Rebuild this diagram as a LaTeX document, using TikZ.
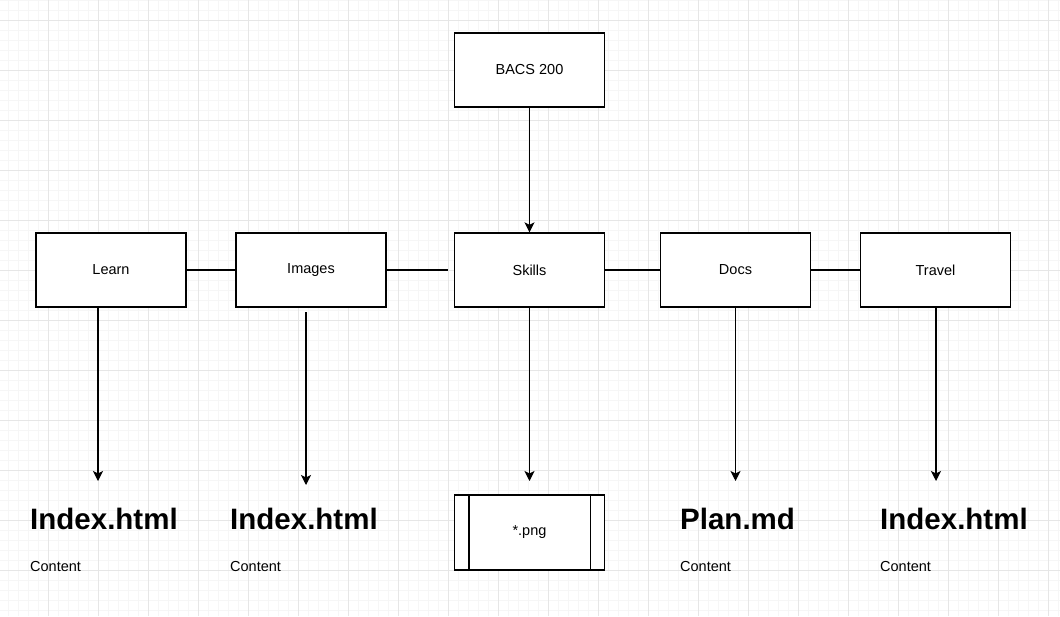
\documentclass[tikz,border=0pt]{standalone}
\usepackage{fontspec}
\setmainfont{Liberation Sans}
\usetikzlibrary{arrows.meta}
\definecolor{minorgrid}{HTML}{F6F6F6}
\definecolor{majorgrid}{HTML}{E6E6E6}
\begin{document}
\begin{tikzpicture}[x=1pt,y=-1pt,
  box/.style={draw=black,line width=1.3pt,fill=white,minimum width=150pt,minimum height=74pt,inner sep=0pt,font=\fontsize{14.5}{17}\selectfont},
  link/.style={line width=1.3pt,draw=black},
  arr/.style={line width=1.3pt,draw=black,-{Stealth[length=10pt,width=10pt,inset=2.5pt]}},
  head/.style={anchor=base west,inner sep=0pt,font=\bfseries\fontsize{29.5}{34}\selectfont},
  sub/.style={anchor=base west,inner sep=0pt,font=\fontsize{14.5}{17}\selectfont}]
\useasboundingbox (0,0) rectangle (1060,616);
\fill[white] (0,0) rectangle (1060,616);
% grid
\foreach \x in {8,18,...,1060} \draw[minorgrid,line width=1pt] (\x,0) -- (\x,616);
\foreach \y in {0,10,...,616} \draw[minorgrid,line width=1pt] (0,\y) -- (1060,\y);
\foreach \x in {48,98,...,1060} \draw[majorgrid,line width=1pt] (\x,0) -- (\x,616);
\foreach \y in {20,70,...,616} \draw[majorgrid,line width=1pt] (0,\y) -- (1060,\y);
% boxes
\node[box] (bacs) at (529.5,70) {BACS 200};
\node[box] (learn) at (111,270) {Learn};
\node[box] (images) at (311,270) {Images};
\node[box] (skills) at (529.5,270) {Skills};
\node[box] (docs) at (735.5,270) {Docs};
\node[box] (travel) at (935.5,270) {Travel};
\node[box,minimum height=75pt] (png) at (529.5,532.5) {*.png};
\draw[line width=1.3pt] ([xshift=15pt]png.north west) -- ([xshift=15pt]png.south west);
\draw[line width=1.3pt] ([xshift=-15pt]png.north east) -- ([xshift=-15pt]png.south east);
% text blocks
\node[head] (h1) at (30,529) {Index.html};
\node[sub] (c1) at (30,571) {Content};
\node[head] (h2) at (230,529) {Index.html};
\node[sub] (c2) at (230,571) {Content};
\node[head] (h4) at (680,529) {Plan.md};
\node[sub] (c4) at (680,571) {Content};
\node[head] (h5) at (880,529) {Index.html};
\node[sub] (c5) at (880,571) {Content};
% connectors
\coordinate (imgend) at (448,270);
\draw[link] (learn.east) -- (images.west);
\draw[link] (images.east) -- (imgend);
\draw[link] (skills.east) -- (docs.west);
\draw[link] (docs.east) -- (travel.west);
\draw[arr] (bacs.south) -- (skills.north);
\coordinate (la) at (98,307); \coordinate (lb) at (98,481);
\coordinate (ia) at (306,312); \coordinate (ib) at (306,485);
\coordinate (da) at (735.5,307); \coordinate (db) at (735.5,481);
\coordinate (ta) at (936,307); \coordinate (tb) at (936,481);
\coordinate (sb) at (529.5,481);
\draw[arr] (la) -- (lb);
\draw[arr] (ia) -- (ib);
\draw[arr] (skills.south) -- (sb);
\draw[arr] (da) -- (db);
\draw[arr] (ta) -- (tb);
\end{tikzpicture}
\end{document}
